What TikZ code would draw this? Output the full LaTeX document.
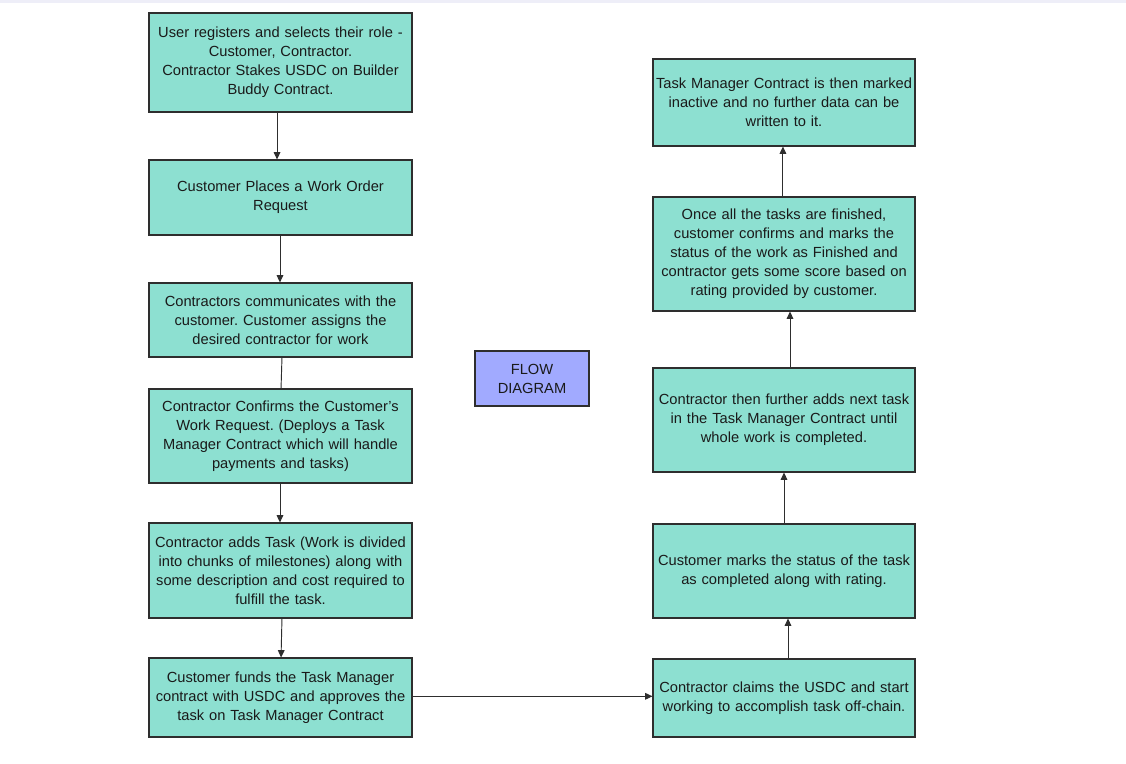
\documentclass[tikz,border=0pt]{standalone}
\usepackage{fontspec}
\setmainfont{Liberation Sans}
\frenchspacing
\usetikzlibrary{arrows.meta}
\definecolor{teal1}{HTML}{8DE0D1}
\definecolor{flowblue}{HTML}{A1AAFF}
\definecolor{edge}{HTML}{2E2E2E}
\definecolor{txt}{HTML}{1A1A1A}
\definecolor{strip}{HTML}{EEEEF8}
\tikzset{
  box/.style={draw=edge, line width=0.8pt, fill=teal1, align=center, text=txt,
    font=\fontsize{11pt}{14.25pt}\selectfont, inner sep=0pt, text width=195pt},
  lbox/.style={box, minimum width=197.25pt},
  rbox/.style={box, minimum width=196.5pt},
  flowbox/.style={box, fill=flowblue, text width=80pt, minimum width=85.5pt, minimum height=41.25pt},
  arr/.style={draw=edge, line width=0.7pt, -{Triangle[length=5.5pt,width=5pt]}},
  plain/.style={draw=edge, line width=0.7pt}
}
\begin{document}
\begin{tikzpicture}[x=0.75pt,y=-0.75pt]
\useasboundingbox[fill=white] (0,0) rectangle (1126,763);
\fill[strip] (0,0) rectangle (1126,3);
% left column
\node[lbox, minimum height=74.25pt] (b1) at (280.5,62.5) {User registers and selects their role -\\Customer, Contractor.\\Contractor Stakes USDC on Builder\\Buddy Contract.};
\node[lbox, minimum height=56.25pt] (b2) at (280.5,197.5) {Customer Places a Work Order\\Request};
\node[lbox, minimum height=55.5pt] (b3) at (280.5,320) {Contractors communicates with the\\customer. Customer assigns the\\desired contractor for work};
\node[lbox, minimum height=70.5pt] (b4) at (280.5,436) {Contractor Confirms the Customer's\\Work Request. (Deploys a Task\\Manager Contract which will handle\\payments and tasks)};
\node[lbox, minimum height=71.25pt] (b5) at (280.5,570.5) {Contractor adds Task (Work is divided\\into chunks of milestones) along with\\some description and cost required to\\fulfill the task.};
\node[lbox, minimum height=59.25pt] (b6) at (280.5,697.5) {Customer funds the Task Manager\\contract with USDC and approves the\\task on Task Manager Contract};
% centre
\node[flowbox] (flow) at (532,378.5) {FLOW\\DIAGRAM};
% right column
\node[rbox, minimum height=65.25pt] (r1) at (784,102.5) {Task Manager Contract is then marked\\inactive and no further data can be\\written to it.};
\node[rbox, minimum height=85.5pt] (r2) at (784,254) {Once all the tasks are finished,\\customer confirms and marks the\\status of the work as Finished and\\contractor gets some score based on\\rating provided by customer.};
\node[rbox, minimum height=78pt] (r3) at (784,420) {Contractor then further adds next task\\in the Task Manager Contract until\\whole work is completed.};
\node[rbox, minimum height=70.5pt] (r4) at (784,571) {Customer marks the status of the task\\as completed along with rating.};
\node[rbox, minimum height=58.5pt] (r5) at (784,698) {Contractor claims the USDC and start\\working to accomplish task off-chain.};
% connectors
\draw[arr] ([xshift=-2.6pt]b1.south) -- ([xshift=-2.6pt]b2.north);
\draw[arr] ([xshift=-0.4pt]b2.south) -- ([xshift=-0.4pt]b3.north);
\draw[plain] ([xshift=1.1pt]b3.south) -- ([xshift=0.4pt]b4.north);
\draw[arr] ([xshift=-0.4pt]b4.south) -- ([xshift=-0.4pt]b5.north);
\draw[arr] ([xshift=1.1pt]b5.south) -- ([xshift=0.4pt]b6.north);
\draw[arr] ([yshift=0.9pt]b6.east) -- ([yshift=0.9pt]b6.east -| r5.west);
\draw[arr] ([xshift=3pt]r5.north) -- ([xshift=3pt]r4.south);
\draw[arr] (r4.north) -- (r3.south);
\draw[arr] ([xshift=4.5pt]r3.north) -- ([xshift=4.5pt]r2.south);
\draw[arr] ([xshift=-0.8pt]r2.north) -- ([xshift=-0.8pt]r1.south);
\end{tikzpicture}
\end{document}
